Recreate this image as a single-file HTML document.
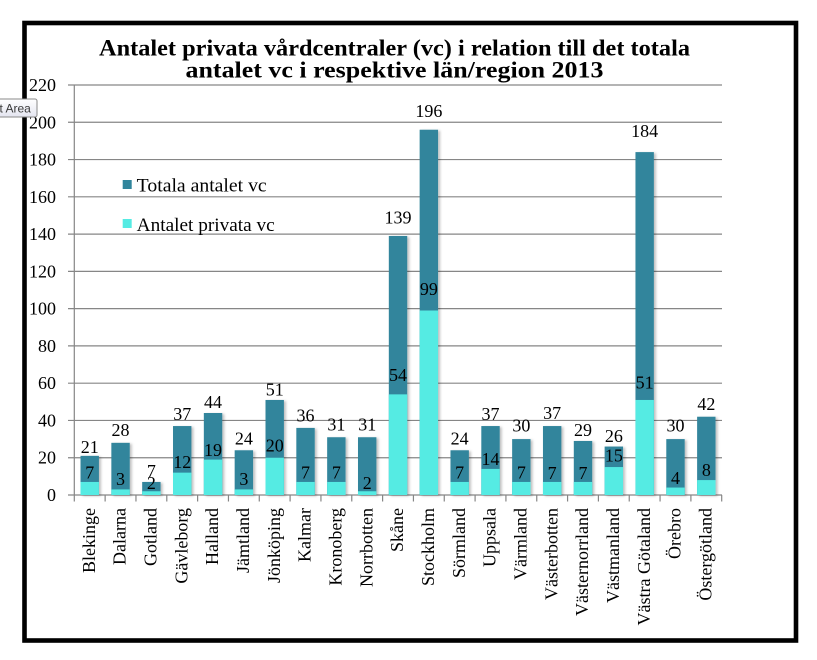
<!DOCTYPE html>
<html>
<head>
<meta charset="utf-8">
<style>
html,body{margin:0;padding:0;background:#fff;}
svg{display:block;}
text{font-family:"Liberation Serif","DejaVu Serif",serif;fill:#000;}
</style>
</head>
<body>
<svg width="817" height="660" viewBox="0 0 817 660" xmlns="http://www.w3.org/2000/svg">
<defs>
<filter id="sh" x="-30%" y="-5%" width="160%" height="110%">
<feDropShadow dx="2" dy="1" stdDeviation="1.3" flood-color="#000" flood-opacity="0.25"/>
</filter>
<linearGradient id="tg" x1="0" y1="0" x2="0" y2="1">
<stop offset="0" stop-color="#ffffff"/>
<stop offset="1" stop-color="#e4e5f0"/>
</linearGradient>
</defs>
<rect x="0" y="0" width="817" height="660" fill="#fff"/>

<!-- title -->
<text x="394.5" y="55.5" font-size="23" font-weight="bold" text-anchor="middle" textLength="591" lengthAdjust="spacingAndGlyphs">Antalet privata vårdcentraler (vc) i relation till det totala</text>
<text x="394.5" y="77.5" font-size="23" font-weight="bold" text-anchor="middle" textLength="418" lengthAdjust="spacingAndGlyphs">antalet vc i respektive län/region 2013</text>

<!-- gridlines -->
<g stroke="#868686" stroke-width="1.2">
<line x1="68" y1="85" x2="722" y2="85"/>
<line x1="68" y1="122.28" x2="722" y2="122.28"/>
<line x1="68" y1="159.55" x2="722" y2="159.55"/>
<line x1="68" y1="196.82" x2="722" y2="196.82"/>
<line x1="68" y1="234.1" x2="722" y2="234.1"/>
<line x1="68" y1="271.37" x2="722" y2="271.37"/>
<line x1="68" y1="308.64" x2="722" y2="308.64"/>
<line x1="68" y1="345.91" x2="722" y2="345.91"/>
<line x1="68" y1="383.18" x2="722" y2="383.18"/>
<line x1="68" y1="420.46" x2="722" y2="420.46"/>
<line x1="68" y1="457.73" x2="722" y2="457.73"/>
<line x1="68" y1="495" x2="722" y2="495"/>
<line x1="74.3" y1="85" x2="74.3" y2="495"/>
</g>
<!-- x ticks -->
<g stroke="#868686" stroke-width="1.2">
<line x1="74.3" y1="495" x2="74.3" y2="501.5"/>
<line x1="105.13" y1="495" x2="105.13" y2="501.5"/>
<line x1="135.96" y1="495" x2="135.96" y2="501.5"/>
<line x1="166.79" y1="495" x2="166.79" y2="501.5"/>
<line x1="197.62" y1="495" x2="197.62" y2="501.5"/>
<line x1="228.45" y1="495" x2="228.45" y2="501.5"/>
<line x1="259.28" y1="495" x2="259.28" y2="501.5"/>
<line x1="290.11" y1="495" x2="290.11" y2="501.5"/>
<line x1="320.94" y1="495" x2="320.94" y2="501.5"/>
<line x1="351.77" y1="495" x2="351.77" y2="501.5"/>
<line x1="382.6" y1="495" x2="382.6" y2="501.5"/>
<line x1="413.43" y1="495" x2="413.43" y2="501.5"/>
<line x1="444.26" y1="495" x2="444.26" y2="501.5"/>
<line x1="475.09" y1="495" x2="475.09" y2="501.5"/>
<line x1="505.92" y1="495" x2="505.92" y2="501.5"/>
<line x1="536.75" y1="495" x2="536.75" y2="501.5"/>
<line x1="567.58" y1="495" x2="567.58" y2="501.5"/>
<line x1="598.41" y1="495" x2="598.41" y2="501.5"/>
<line x1="629.24" y1="495" x2="629.24" y2="501.5"/>
<line x1="660.07" y1="495" x2="660.07" y2="501.5"/>
<line x1="690.9" y1="495" x2="690.9" y2="501.5"/>
<line x1="721.7" y1="495" x2="721.7" y2="501.5"/>
</g>

<!-- y labels -->
<g font-size="18" text-anchor="end">
<text x="56" y="91">220</text>
<text x="56" y="128.3">200</text>
<text x="56" y="165.5">180</text>
<text x="56" y="202.8">160</text>
<text x="56" y="240.1">140</text>
<text x="56" y="277.4">120</text>
<text x="56" y="314.6">100</text>
<text x="56" y="351.9">80</text>
<text x="56" y="389.2">60</text>
<text x="56" y="426.5">40</text>
<text x="56" y="463.7">20</text>
<text x="56" y="501">0</text>
</g>

<!-- dark bars (totals) -->
<g fill="#31859C" filter="url(#sh)">
<rect x="80.52" y="455.86" width="18.4" height="39.14"/>
<rect x="111.35" y="442.82" width="18.4" height="52.18"/>
<rect x="142.18" y="481.95" width="18.4" height="13.05"/>
<rect x="173.01" y="426.05" width="18.4" height="68.95"/>
<rect x="203.84" y="413" width="18.4" height="82"/>
<rect x="234.67" y="450.27" width="18.4" height="44.73"/>
<rect x="265.5" y="399.96" width="18.4" height="95.04"/>
<rect x="296.33" y="427.91" width="18.4" height="67.09"/>
<rect x="327.16" y="437.23" width="18.4" height="57.77"/>
<rect x="357.99" y="437.23" width="18.4" height="57.77"/>
<rect x="388.82" y="235.96" width="18.4" height="259.04"/>
<rect x="419.65" y="129.73" width="18.4" height="365.27"/>
<rect x="450.48" y="450.27" width="18.4" height="44.73"/>
<rect x="481.31" y="426.05" width="18.4" height="68.95"/>
<rect x="512.14" y="439.09" width="18.4" height="55.91"/>
<rect x="542.97" y="426.05" width="18.4" height="68.95"/>
<rect x="573.8" y="440.96" width="18.4" height="54.04"/>
<rect x="604.63" y="446.55" width="18.4" height="48.45"/>
<rect x="635.46" y="152.1" width="18.4" height="342.9"/>
<rect x="666.29" y="439.09" width="18.4" height="55.91"/>
<rect x="697.12" y="416.73" width="18.4" height="78.27"/>
</g>
<!-- light bars (private) -->
<g fill="#55EBE3">
<rect x="80.52" y="481.95" width="18.4" height="13.05"/>
<rect x="111.35" y="489.41" width="18.4" height="5.59"/>
<rect x="142.18" y="491.27" width="18.4" height="3.73"/>
<rect x="173.01" y="472.64" width="18.4" height="22.36"/>
<rect x="203.84" y="459.59" width="18.4" height="35.41"/>
<rect x="234.67" y="489.41" width="18.4" height="5.59"/>
<rect x="265.5" y="457.73" width="18.4" height="37.27"/>
<rect x="296.33" y="481.95" width="18.4" height="13.05"/>
<rect x="327.16" y="481.95" width="18.4" height="13.05"/>
<rect x="357.99" y="491.27" width="18.4" height="3.73"/>
<rect x="388.82" y="394.37" width="18.4" height="100.63"/>
<rect x="419.65" y="310.5" width="18.4" height="184.5"/>
<rect x="450.48" y="481.95" width="18.4" height="13.05"/>
<rect x="481.31" y="468.91" width="18.4" height="26.09"/>
<rect x="512.14" y="481.95" width="18.4" height="13.05"/>
<rect x="542.97" y="481.95" width="18.4" height="13.05"/>
<rect x="573.8" y="481.95" width="18.4" height="13.05"/>
<rect x="604.63" y="467.05" width="18.4" height="27.95"/>
<rect x="635.46" y="399.96" width="18.4" height="95.04"/>
<rect x="666.29" y="487.55" width="18.4" height="7.45"/>
<rect x="697.12" y="480.09" width="18.4" height="14.91"/>
</g>

<!-- total labels -->
<g font-size="18" text-anchor="middle">
<text x="89.72" y="452.8">21</text>
<text x="120.55" y="436">28</text>
<text x="151.38" y="477">7</text>
<text x="182.21" y="420">37</text>
<text x="213.04" y="408">44</text>
<text x="243.87" y="444.5">24</text>
<text x="274.7" y="395.5">51</text>
<text x="305.53" y="421.5">36</text>
<text x="336.36" y="430.5">31</text>
<text x="367.19" y="430.5">31</text>
<text x="398.02" y="223.3">139</text>
<text x="428.85" y="117">196</text>
<text x="459.68" y="444.5">24</text>
<text x="490.51" y="420">37</text>
<text x="521.34" y="431.7">30</text>
<text x="552.17" y="419">37</text>
<text x="583" y="436">29</text>
<text x="613.83" y="442">26</text>
<text x="644.66" y="137">184</text>
<text x="675.49" y="431.5">30</text>
<text x="706.32" y="410">42</text>
</g>
<!-- private labels -->
<g font-size="18" text-anchor="middle">
<text x="89.72" y="478.3">7</text>
<text x="120.55" y="485">3</text>
<text x="151.38" y="489">2</text>
<text x="182.21" y="468">12</text>
<text x="213.04" y="456">19</text>
<text x="243.87" y="485">3</text>
<text x="274.7" y="451.7">20</text>
<text x="305.53" y="478.3">7</text>
<text x="336.36" y="478.3">7</text>
<text x="367.19" y="489">2</text>
<text x="398.02" y="381">54</text>
<text x="428.85" y="295">99</text>
<text x="459.68" y="478.3">7</text>
<text x="490.51" y="465">14</text>
<text x="521.34" y="478.3">7</text>
<text x="552.17" y="479">7</text>
<text x="583" y="479">7</text>
<text x="613.83" y="461.7">15</text>
<text x="644.66" y="388.3">51</text>
<text x="675.49" y="484">4</text>
<text x="706.32" y="476">8</text>
</g>

<!-- category labels -->
<g font-size="18" text-anchor="end">
<text transform="translate(94.9,508) rotate(-90)">Blekinge</text>
<text transform="translate(125.7,508) rotate(-90)">Dalarna</text>
<text transform="translate(156.6,508) rotate(-90)">Gotland</text>
<text transform="translate(187.4,508) rotate(-90)">Gävleborg</text>
<text transform="translate(218.2,508) rotate(-90)">Halland</text>
<text transform="translate(249.1,508) rotate(-90)">Jämtland</text>
<text transform="translate(279.9,508) rotate(-90)">Jönköping</text>
<text transform="translate(310.7,508) rotate(-90)">Kalmar</text>
<text transform="translate(341.6,508) rotate(-90)">Kronoberg</text>
<text transform="translate(372.4,508) rotate(-90)">Norrbotten</text>
<text transform="translate(403.2,508) rotate(-90)">Skåne</text>
<text transform="translate(434.1,508) rotate(-90)">Stockholm</text>
<text transform="translate(464.9,508) rotate(-90)">Sörmland</text>
<text transform="translate(495.7,508) rotate(-90)">Uppsala</text>
<text transform="translate(526.5,508) rotate(-90)">Värmland</text>
<text transform="translate(557.4,508) rotate(-90)">Västerbotten</text>
<text transform="translate(588.2,508) rotate(-90)">Västernorrland</text>
<text transform="translate(619,508) rotate(-90)">Västmanland</text>
<text transform="translate(649.9,508) rotate(-90)">Västra Götaland</text>
<text transform="translate(680.7,508) rotate(-90)">Örebro</text>
<text transform="translate(711.5,508) rotate(-90)">Östergötland</text>
</g>

<!-- legend -->
<rect x="122.7" y="180" width="9" height="9" fill="#31859C"/>
<text x="136.7" y="191.7" font-size="19" textLength="130" lengthAdjust="spacingAndGlyphs">Totala antalet vc</text>
<rect x="122.7" y="219" width="9" height="9" fill="#55EBE3"/>
<text x="136.7" y="231" font-size="19" textLength="138" lengthAdjust="spacingAndGlyphs">Antalet privata vc</text>

<!-- chart border -->
<rect x="24.5" y="23" width="771.5" height="617.5" fill="none" stroke="#000" stroke-width="4.6"/>

<!-- tooltip -->
<rect x="-3" y="99" width="40" height="18" rx="2" fill="url(#tg)" stroke="#8a8a8a" stroke-width="1"/>
<text x="-0.5" y="112.5" font-size="12" style="font-family:'Liberation Sans','DejaVu Sans',sans-serif;fill:#3a3a3a">t Area</text>
</svg>
</body>
</html>
